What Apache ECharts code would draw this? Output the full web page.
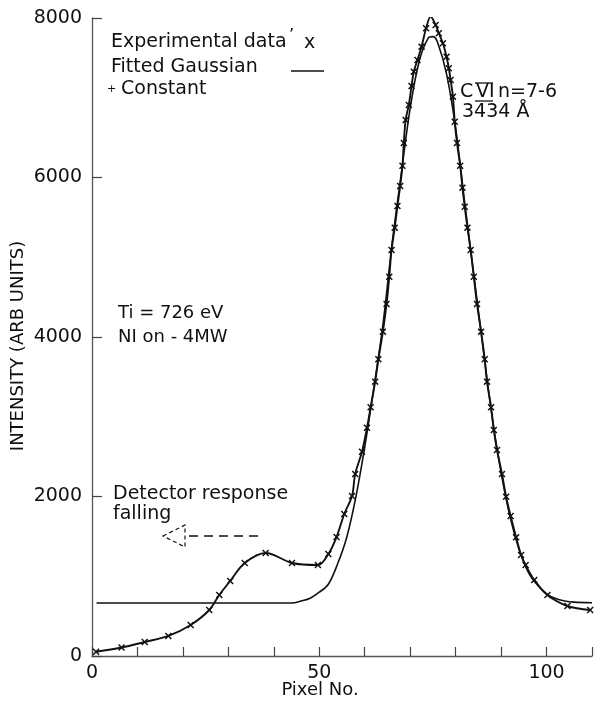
<!DOCTYPE html>
<html>
<head>
<meta charset="utf-8">
<script src="https://cdn.jsdelivr.net/npm/echarts@6/dist/echarts.min.js"></script>
<style>
  html, body { margin: 0; padding: 0; background: #fff; }
  #chart { width: 595px; height: 706px; }
</style>
</head>
<body>
<div id="chart"></div>
<script>
// Pixel positions (x) and intensities of the measured C VI line profile
const expPixel = [0.9, 6.5, 11.6, 16.8, 21.7, 25.8, 28.0, 30.4, 33.6, 38.2, 44.0, 49.7, 52.0, 53.8, 55.5, 57.2,
  57.9, 59.4, 60.5, 61.3, 62.3, 63.0, 64.0, 64.8, 65.4, 65.9, 66.6, 67.2, 67.8, 68.3, 68.6, 69.0, 69.7, 70.3,
  70.8, 71.6, 72.5, 73.5, 74.5, 75.6, 76.3, 77.2, 78.0, 78.5, 78.9, 79.4, 79.8, 80.3, 81.0, 81.5, 82.0, 82.6,
  83.3, 84.0, 84.7, 85.6, 86.4, 86.9, 87.8, 88.4, 89.1, 90.2, 91.1, 92.1, 93.3, 94.4, 95.4, 97.3, 100.2, 104.6, 109.6];
const expIntensity = [54, 107, 176, 251, 389, 577, 765, 941, 1166, 1292, 1166, 1141, 1279, 1492, 1781, 2006,
  2282, 2562, 2863, 3119, 3440, 3721, 4067, 4414, 4756, 5091, 5371, 5643, 5894, 6148, 6433, 6721, 6910, 7148,
  7327, 7474, 7641, 7871, 8017, 7913, 7809, 7683, 7515, 7370, 7223, 7014, 6700, 6433, 6148, 5873, 5634, 5371,
  5091, 4756, 4414, 4067, 3721, 3440, 3119, 2834, 2583, 2282, 1998, 1756, 1488, 1267, 1141, 953, 765, 627, 577];

// Fitted Gaussian plus constant background
const fitPixel = [1, 44, 46, 48, 50, 52, 54, 56, 58, 60, 62, 64, 66, 68, 70, 72, 74, 75, 76, 78, 80, 82, 84,
  86, 88, 90, 92, 94, 96, 98, 100, 102, 104, 106, 110];
const fitIntensity = [665, 665, 690, 725, 800, 900, 1150, 1480, 1980, 2620, 3360, 4150, 5160, 6030, 6870, 7460,
  7750, 7766, 7700, 7300, 6620, 5680, 4780, 3880, 3010, 2300, 1740, 1330, 1050, 890, 780, 720, 690, 675, 668];

// Axis ticks
const xTicksLabelled = [0, 50, 100];
const yTicks = [0, 2000, 4000, 6000, 8000];

const FONT = '"DejaVu Sans", sans-serif';
const INK = '#111';

const expData = expPixel.map((x, i) => [x, expIntensity[i]]);
const fitData = fitPixel.map((x, i) => [x, fitIntensity[i]]);

const crossSymbol = 'path://M0,1.5L1.5,0L5,3.5L8.5,0L10,1.5L6.5,5L10,8.5L8.5,10L5,6.5L1.5,10L0,8.5L3.5,5Z';

function txt(x, y, text, size, extra) {
  return Object.assign({
    type: 'text', x: x, y: y, silent: true,
    style: {
      text: text, fill: INK, font: size + 'px ' + FONT,
      textAlign: 'left', textVerticalAlign: 'middle', align: 'left', verticalAlign: 'middle'
    }
  }, extra || {});
}
function seg(x1, y1, x2, y2, w, dash) {
  return {
    type: 'line', silent: true,
    shape: { x1: x1, y1: y1, x2: x2, y2: y2 },
    style: { stroke: INK, lineWidth: w || 1.4, lineDash: dash || null }
  };
}

const chart = echarts.init(document.getElementById('chart'), null, { renderer: 'canvas' });
chart.setOption({
  animation: false,
  backgroundColor: '#fff',
  grid: { left: 92, right: 0, top: 18, bottom: 50, containLabel: false },
  xAxis: {
    type: 'value', min: 0, max: 110, interval: 10,
    axisLine: { show: true, onZero: false, lineStyle: { color: '#555', width: 1.3 } },
    axisTick: { show: true, inside: true, length: 9, lineStyle: { color: '#444', width: 1.2 } },
    axisLabel: {
      margin: 8, color: INK, fontFamily: FONT, fontSize: 19,
      formatter: v => xTicksLabelled.includes(v) ? String(v) : ''
    },
    splitLine: { show: false }
  },
  yAxis: {
    type: 'value', min: 0, max: 8000, interval: 2000,
    axisLine: { show: true, lineStyle: { color: '#555', width: 1.3 } },
    axisTick: { show: true, inside: true, length: 10, lineStyle: { color: '#444', width: 1.2 } },
    axisLabel: {
      margin: 10, color: INK, fontFamily: FONT, fontSize: 19,
      formatter: v => yTicks.includes(v) ? String(v) : ''
    },
    splitLine: { show: false }
  },
  series: [
    {
      name: 'Fitted Gaussian + Constant',
      type: 'line', data: fitData, smooth: 0.35,
      symbol: 'none',
      lineStyle: { color: INK, width: 1.6 },
      z: 2
    },
    {
      name: 'Experimental data',
      type: 'line', data: expData, smooth: 0.35,
      symbol: crossSymbol, symbolSize: 7, showAllSymbol: true,
      itemStyle: { color: INK },
      lineStyle: { color: INK, width: 1.9 },
      z: 3
    }
  ],
  graphic: [
    // key
    txt(111, 42, 'Experimental data', 19),
    txt(289, 36, '\u2019', 16),
    txt(304, 43, 'x', 19),
    txt(111, 67, 'Fitted Gaussian', 19),
    seg(291, 71, 324, 71, 1.6),
    txt(107, 89, '+', 11),
    txt(121, 89, 'Constant', 19),
    // line identification
    txt(460, 92, 'C', 19),
    txt(476, 92, 'VI', 19),
    seg(475, 83, 493, 83, 1.3),
    seg(475, 101, 493, 101, 1.3),
    txt(498, 92, 'n=7-6', 19),
    txt(462, 112, '3434 \u00C5', 19),
    // plasma conditions
    txt(118, 313, 'Ti = 726 eV', 18),
    txt(118, 337, 'NI on - 4MW', 18),
    // detector note and dashed arrow
    txt(113, 494, 'Detector response', 19),
    txt(113, 514, 'falling', 19),
    seg(258, 536, 184, 536, 1.3, [9, 6]),
    {
      type: 'polygon', silent: true,
      shape: { points: [[163, 536], [185, 525], [185, 547]] },
      style: { fill: 'none', stroke: INK, lineWidth: 1.2, lineDash: [4, 3] }
    },
    // axis titles
    txt(320, 690, 'Pixel No.', 18, { style: { text: 'Pixel No.', fill: INK, font: '18px ' + FONT, textAlign: 'center', textVerticalAlign: 'middle', align: 'center', verticalAlign: 'middle' } }),
    {
      type: 'text', x: 18, y: 346, rotation: Math.PI / 2, silent: true,
      style: {
        text: 'INTENSITY (ARB UNITS)', fill: INK, font: '18px ' + FONT,
        textAlign: 'center', textVerticalAlign: 'middle', align: 'center', verticalAlign: 'middle'
      }
    }
  ]
});
</script>
</body>
</html>
